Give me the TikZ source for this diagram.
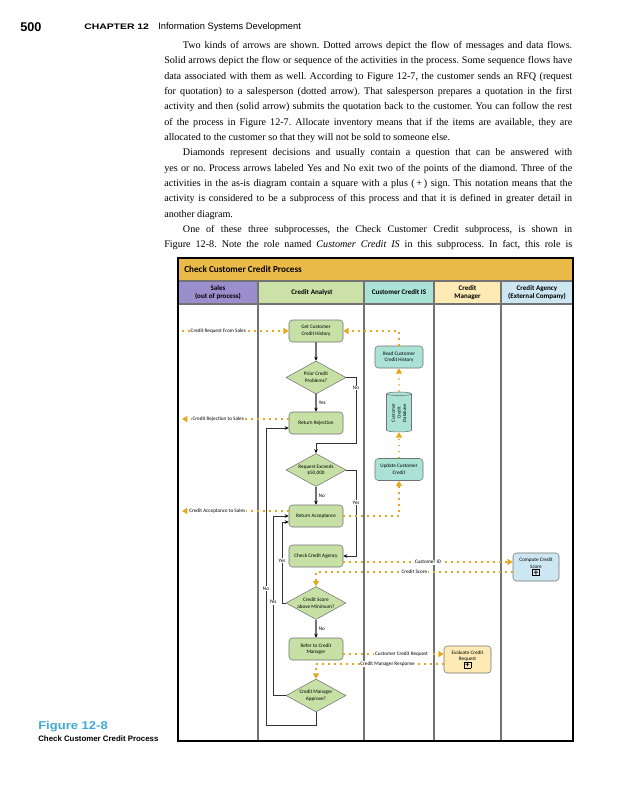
\documentclass[tikz,border=0pt]{standalone}
\usepackage{fontspec}
\usepackage{graphicx}
\usetikzlibrary{shapes.geometric, arrows.meta, positioning}
\setmainfont{Liberation Serif}
\newfontfamily\diagfont{Carlito}
\newfontfamily\pagefont{Liberation Sans}
\definecolor{titlegold}{RGB}{233,186,72}
\definecolor{salesviolet}{RGB}{155,142,204}
\definecolor{analystgreen}{RGB}{203,225,168}
\definecolor{taskgreen}{RGB}{198,224,165}
\definecolor{isteal}{RGB}{170,227,213}
\definecolor{mgryellow}{RGB}{253,234,180}
\definecolor{agencyblue}{RGB}{204,231,241}
\definecolor{msggold}{RGB}{232,166,30}
\definecolor{figblue}{RGB}{62,170,214}
\newlength{\px}
\setlength{\px}{0.75pt}
\newcommand{\subproc}{{\setlength{\fboxsep}{0.25pt}\setlength{\fboxrule}{0.45pt}%
  \fbox{\makebox[4.3pt][c]{\fontsize{6.5}{6}\selectfont\bfseries +}}}}

\begin{document}
\begin{tikzpicture}[x=0.75pt, y=-0.75pt,
  lanehead/.style={align=center, inner sep=0pt, font=\diagfont\bfseries\fontsize{5.3}{5.8}\selectfont},
  lanesep/.style={draw=black!55, line width=0.8pt},
  task/.style={draw=black!55, rounded corners=2.5pt, fill=taskgreen, minimum width=54\px,
    minimum height=22\px, align=center, inner sep=0.5pt, font=\diagfont\fontsize{3.9}{5}\selectfont},
  istask/.style={task, fill=isteal, minimum width=48\px},
  decision/.style={diamond, draw=black!55, fill=taskgreen, minimum width=60\px,
    minimum height=33\px, inner sep=0pt, aspect=1.8, align=center, font=\diagfont\fontsize{3.9}{5}\selectfont},
  store/.style={cylinder, rotate=90, draw=black!55, fill=isteal, minimum width=25\px,
    minimum height=40\px, aspect=0.25, inner sep=0pt, align=center, font=\diagfont\fontsize{3.6}{4.2}\selectfont},
  flow/.style={-{Stealth[length=3pt, width=2.6pt, black]}, draw=black!55, line width=1.1pt},
  loop/.style={-{Stealth[length=3pt, width=2.6pt, black]}, draw=black!80, line width=0.7pt},
  msg/.style={-{Triangle[length=4pt, width=4.5pt, fill=msggold]}, draw=msggold, line width=1pt,
    dash pattern=on 1.2pt off 3.3pt},
  msglabel/.style={fill=white, inner sep=0.6pt, font=\diagfont\fontsize{3.9}{4.5}\selectfont},
  answer/.style={fill=white, inner sep=0.6pt, font=\diagfont\fontsize{3.9}{4.5}\selectfont}
]
\fill[white] (0,0) rectangle (625,800);
\useasboundingbox (0,0) rectangle (625,800);

% running head
\node[anchor=west, inner sep=0pt, font=\pagefont\bfseries\fontsize{9.5}{9.5}\selectfont] (pagenum) at (20,27) {500};
\node[anchor=west, inner sep=0pt, font=\pagefont\bfseries\fontsize{6}{6}\selectfont] (chapter) at (84,27) {\scalebox{1.3}[1]{CHAPTER 12}};
\node[anchor=west, inner sep=0pt, font=\pagefont\fontsize{7}{7}\selectfont] (runhead) at (158,27) {Information Systems Development};

% body text
\node[anchor=north west, inner sep=0pt, text width=306pt, align=justify, font=\fontsize{7.6}{11.5}\selectfont\frenchspacing] (bodytext) at (164,41) {%
\hspace*{14pt}Two kinds of arrows are shown. Dotted arrows depict the flow of messages and data flows.\linebreak
Solid arrows depict the flow or sequence of the activities in the process. Some sequence flows have\linebreak
data associated with them as well. According to Figure 12-7, the customer sends an RFQ (request\linebreak
for quotation) to a salesperson (dotted arrow). That salesperson prepares a quotation in the first\linebreak
activity and then (solid arrow) submits the quotation back to the customer. You can follow the rest\linebreak
of the process in Figure 12-7. Allocate inventory means that if the items are available, they are\linebreak
allocated to the customer so that they will not be sold to someone else.\par
\hspace*{14pt}Diamonds represent decisions and usually contain a question that can be answered with\linebreak
yes or no. Process arrows labeled Yes and No exit two of the points of the diamond. Three of the\linebreak
activities in the as-is diagram contain a square with a plus (\,+\,) sign. This notation means that the\linebreak
activity is considered to be a subprocess of this process and that it is defined in greater detail in\linebreak
another diagram.\par
\hspace*{14pt}One of these three subprocesses, the Check Customer Credit subprocess, is shown in\linebreak
Figure 12-8. Note the role named \emph{Customer Credit IS} in this subprocess. In fact, this role is\parfillskip=0pt\par};

% figure caption
\node[anchor=west, inner sep=0pt, text=figblue, font=\pagefont\bfseries\fontsize{8.5}{9}\selectfont] (figno) at (38,727) {\scalebox{1.15}[1]{Figure 12-8}};
\node[anchor=west, inner sep=0pt, font=\pagefont\bfseries\fontsize{5.9}{6}\selectfont] (figtitle) at (38,738.5) {Check Customer Credit Process};

% swimlanes
\fill[titlegold] (178,258) rectangle (573,281);
\fill[salesviolet] (178,281) rectangle (258,304);
\fill[analystgreen] (258,281) rectangle (364,304);
\fill[isteal] (364,281) rectangle (434,304);
\fill[mgryellow] (434,281) rectangle (501,304);
\fill[agencyblue] (501,281) rectangle (573,304);
\draw[lanesep] (178,281) -- (573,281);
\draw[lanesep] (178,304) -- (573,304);
\draw[lanesep] (258,281) -- (258,741);
\draw[lanesep] (364,281) -- (364,741);
\draw[lanesep] (434,281) -- (434,741);
\draw[lanesep] (501,281) -- (501,741);
\node[anchor=west, inner sep=0pt, font=\diagfont\bfseries\fontsize{6.9}{7}\selectfont] (proctitle) at (184,269.5) {Check Customer Credit Process};
\node[lanehead] (salesh) at (218,292.5) {Sales\\(out of process)};
\node[lanehead] (analysth) at (312,292.5) {Credit Analyst};
\node[lanehead] (ish) at (399,292.5) {Customer Credit IS};
\node[lanehead] (mgrh) at (467.5,292.5) {Credit\\Manager};
\node[lanehead] (agencyh) at (537,292.5) {Credit Agency\\(External Company)};

% activities
\node[task] (gethist) at (316,331) {Get Customer\\Credit History};
\node[decision] (prior) at (316,377.5) {Prior Credit\\Problems?};
\node[task] (reject) at (316,423) {Return Rejection};
\node[decision] (exceeds) at (316,470) {Request Exceeds\\\$50,000};
\node[task] (accept) at (316,516) {Return Acceptance};
\node[task] (agency) at (316,556) {Check Credit Agency};
\node[decision] (minscore) at (316,603) {Credit Score\\above Minimum?};
\node[task] (refer) at (316,649) {Refer to Credit\\Manager};
\node[decision] (approve) at (316,695.5) {Credit Manager\\Approve?};
\node[istask] (readhist) at (399,357) {Read Customer\\Credit History};
\node[store] (creditdb) at (399,413) {Customer\\Credit\\Database};
\node[istask] (update) at (399,469.5) {Update Customer\\Credit};
\node[task, fill=agencyblue, minimum width=46\px, minimum height=28\px] (score) at (536,567) {Compute Credit\\Score\\\subproc};
\node[task, fill=mgryellow, minimum width=47\px, minimum height=27\px] (evaluate) at (467.5,659.5) {Evaluate Credit\\Request\\\subproc};

% bends and message rows
\coordinate (priorbend) at (356,443);
\coordinate (exceedsbend) at (356,556);
\coordinate (scorebend) at (282,522);
\coordinate (approvebend) at (273,516);
\coordinate (rejectbend) at (266,428);
\coordinate (loopfoot) at (316,725);
\coordinate (salesreq) at (182,331);
\coordinate (salesrej) at (182,419);
\coordinate (salesacc) at (182,511);
\coordinate (idrow) at (420,562);
\coordinate (scorerow) at (420,572);
\coordinate (cmrow) at (400,654);
\coordinate (resprow) at (400,664);

% sequence flow
\draw[flow] (gethist) -- (prior);
\draw[flow] (prior) -- node[answer, right=1pt] {Yes} (reject);
\draw[loop] (prior.east) -| node[answer, pos=0.58] {No} (priorbend) -| (exceeds.north);
\draw[flow] (exceeds) -- node[answer, right=1pt] {No} (accept);
\draw[loop] (exceeds.east) -| node[answer, pos=0.69] {Yes} (exceedsbend) -- (agency.east);
\draw[flow] (minscore) -- node[answer, right=1pt] {No} (refer);
\draw[loop] (minscore.west) -| node[answer, pos=0.76] {Yes} (scorebend) -- (accept.west |- scorebend);
\draw[loop] (approve.west) -| node[answer, pos=0.76] {Yes} (approvebend) -- (accept.west);
\draw[loop] (approve.south) -- (loopfoot) -| node[answer, pos=0.73] {No} (rejectbend) -- (reject.west |- rejectbend);

% message flow
\draw[msg] (salesreq) -- node[msglabel, pos=0.34] {Credit Request From Sales} (gethist.west);
\draw[msg] (readhist.north) |- (gethist.east);
\draw[msg] (creditdb) -- (readhist);
\draw[msg] (update) -- (creditdb);
\draw[msg] (accept.east) -| (update.south);
\draw[msg] (reject.west |- salesrej) -- node[msglabel, pos=0.66] {Credit Rejection to Sales} (salesrej);
\draw[msg] (accept.west |- salesacc) -- node[msglabel, pos=0.67] {Credit Acceptance to Sales} (salesacc);
\draw[msg] (agency.east |- idrow) -- node[msglabel] {Customer ID} (score.west |- idrow);
\draw[msg] (score.west |- scorerow) -| node[msglabel, pos=0.25] {Credit Score} (minscore.north);
\draw[msg] (refer.east |- cmrow) -- node[msglabel, pos=0.58] {Customer Credit Request} (evaluate.west |- cmrow);
\draw[msg] (evaluate.west |- resprow) -| node[msglabel, pos=0.22] {Credit Manager Response} (approve.north);

\draw[line width=1.4pt] (178,258) rectangle (573,741);
\end{tikzpicture}
\end{document}
